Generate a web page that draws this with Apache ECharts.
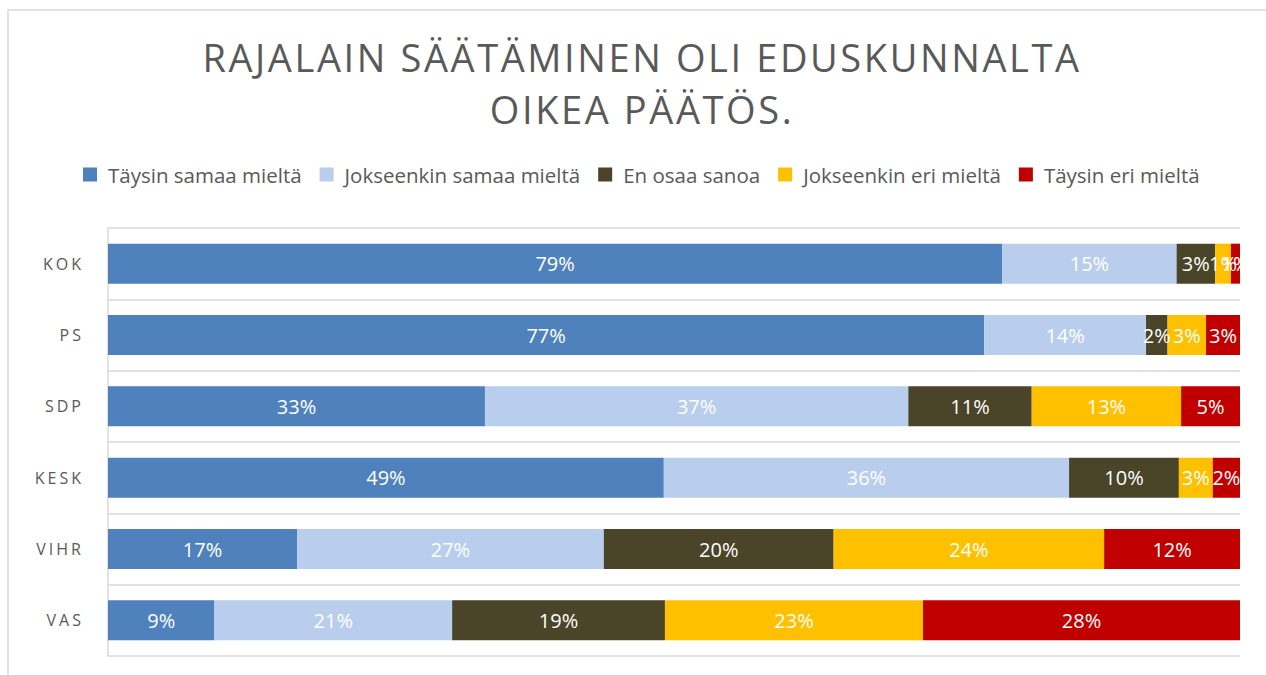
<!DOCTYPE html>
<html>
<head>
<meta charset="utf-8">
<script src="https://cdn.jsdelivr.net/npm/echarts@6/dist/echarts.min.js"></script>
<style>
  html, body { margin: 0; padding: 0; background: #fff; }
  #chart { width: 1266px; height: 675px; }
</style>
</head>
<body>
<div id="chart"></div>
<script>
// puolueet ylhäältä alas
const parties = ['KOK', 'PS', 'SDP', 'KESK', 'VIHR', 'VAS'];
const seriesNames = ['Täysin samaa mieltä', 'Jokseenkin samaa mieltä', 'En osaa sanoa', 'Jokseenkin eri mieltä', 'Täysin eri mieltä'];
const colors = ['#4F81BD', '#B8CEEC', '#4A4429', '#FFC000', '#C00000'];

// osuudet prosentteina (luettu palkkien leveyksistä)
const taysinSamaa = [79.0, 77.4, 33.3, 49.1, 16.7, 9.4];
const jokseenkinSamaa = [15.4, 14.3, 37.4, 35.8, 27.1, 21.0];
const enOsaa = [3.4, 1.9, 10.9, 9.7, 20.3, 18.8];
const jokseenkinEri = [1.4, 3.4, 13.2, 3.0, 23.9, 22.8];
const taysinEri = [0.8, 3.0, 5.2, 2.4, 12.0, 28.0];

const values = [taysinSamaa, jokseenkinSamaa, enOsaa, jokseenkinEri, taysinEri];
const font = '"Open Sans", sans-serif';

let myChart = echarts.init(document.getElementById('chart'), null, { renderer: 'svg' });

let option = {
  animation: false,
  title: {
    text: 'RAJALAIN SÄÄTÄMINEN OLI EDUSKUNNALTA\nOIKEA PÄÄTÖS.',
    left: 637,
    top: 26,
    textAlign: 'center',
    textStyle: {
      fontFamily: font,
      fontSize: 38,
      fontWeight: 'normal',
      color: '#595959',
      lineHeight: 52
    }
  },
  legend: {
    data: seriesNames,
    top: 159,
    left: 78,
    itemWidth: 14,
    itemHeight: 14,
    itemGap: 18,
    icon: 'rect',
    textStyle: { fontFamily: font, fontSize: 20.5, color: '#595959', padding: [0, 0, 0, 6] }
  },
  grid: { left: 108, right: 26, top: 228, bottom: 19 },
  xAxis: {
    type: 'value',
    min: 0,
    max: 100,
    show: false
  },
  yAxis: {
    type: 'category',
    data: parties,
    inverse: true,
    axisLine: { show: true, lineStyle: { color: '#D9D9D9', width: 1.5 } },
    axisTick: { show: false },
    splitLine: { show: true, lineStyle: { color: '#D9D9D9', width: 1.5 } },
    axisLabel: { fontFamily: font, fontSize: 16, color: '#595959', margin: 24 }
  },
  graphic: [{
    type: 'rect',
    shape: { x: 8, y: 10, width: 1300, height: 700 },
    style: { fill: 'none', stroke: '#D9D9D9', lineWidth: 1.5 },
    silent: true
  }],
  series: seriesNames.map((name, i) => ({
    name: name,
    type: 'bar',
    stack: 'total',
    barWidth: 40,
    data: values[i],
    itemStyle: { color: colors[i] },
    label: {
      show: true,
      position: 'inside',
      color: '#fff',
      fontFamily: font,
      fontSize: 20,
      formatter: p => Math.round(p.value) + '%'
    }
  }))
};

myChart.setOption(option);

// kirjainväli otsikolle ja puolueiden nimille
document.querySelectorAll('#chart svg text').forEach(t => {
  const s = t.textContent.trim();
  if (s.indexOf('RAJALAIN') === 0 || s.indexOf('OIKEA') === 0) {
    t.style.letterSpacing = '2.6px';
  } else if (parties.indexOf(s) >= 0) {
    t.style.letterSpacing = '3px';
  }
});
</script>
</body>
</html>
